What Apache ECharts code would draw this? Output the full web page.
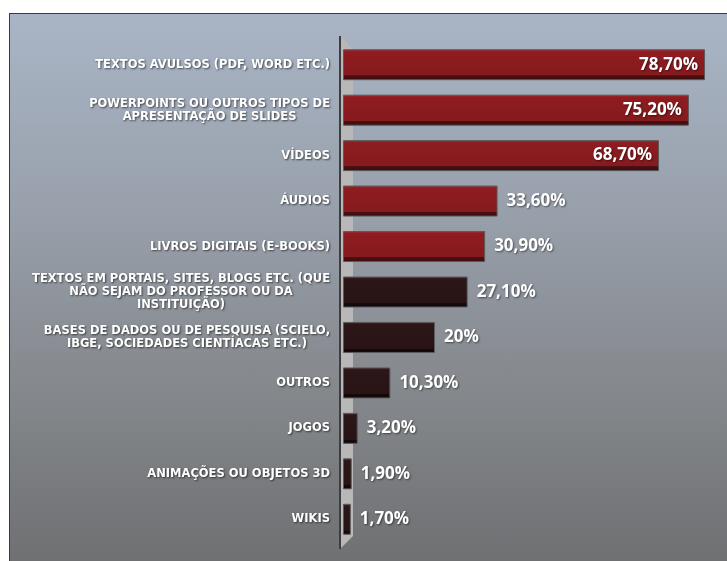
<!DOCTYPE html>
<html>
<head>
<meta charset="utf-8">
<script src="https://cdn.jsdelivr.net/npm/echarts@6/dist/echarts.min.js"></script>
<style>
  html, body { margin: 0; padding: 0; background: #ffffff; }
  #wrap { position: relative; width: 727px; height: 561px; overflow: hidden; }
  #panel { position: absolute; left: 9px; top: 13px; width: 730px; height: 560px;
    border: 1px solid #3a3a3a; box-sizing: border-box;
    background: linear-gradient(to bottom, #a9b5c6 0%, #98a0ab 35%, #83868a 70%, #6d6f71 100%); }
  #chart { position: absolute; left: 0; top: 0; width: 727px; height: 561px; }
</style>
</head>
<body>
<div id="wrap">
  <div id="panel"></div>
  <div id="chart"></div>
</div>
<script>
const categories = [
  "TEXTOS AVULSOS (PDF, WORD ETC.)",
  "POWERPOINTS OU OUTROS TIPOS DE\nAPRESENTAÇÃO DE SLIDES",
  "VÍDEOS",
  "ÁUDIOS",
  "LIVROS DIGITAIS (E-BOOKS)",
  "TEXTOS EM PORTAIS, SITES, BLOGS ETC. (QUE\nNÃO SEJAM DO PROFESSOR OU DA\nINSTITUIÇÃO)",
  "BASES DE DADOS OU DE PESQUISA (SCIELO,\nIBGE, SOCIEDADES CIENTÍACAS ETC.)",
  "OUTROS",
  "JOGOS",
  "ANIMAÇÕES OU OBJETOS 3D",
  "WIKIS"
];
const values = [78.7, 75.2, 68.7, 33.6, 30.9, 27.1, 20, 10.3, 3.2, 1.9, 1.7];
const valueLabels = ["78,70%", "75,20%", "68,70%", "33,60%", "30,90%", "27,10%", "20%", "10,30%", "3,20%", "1,90%", "1,70%"];
const redCount = 5;
const insideCount = 3;

const redFill = {
  type: 'linear', x: 0, y: 0, x2: 0, y2: 1,
  colorStops: [
    { offset: 0, color: '#a83034' },
    { offset: 0.08, color: '#8e1c20' },
    { offset: 0.84, color: '#861a1e' },
    { offset: 0.85, color: '#4a1012' },
    { offset: 1, color: '#3a0c0e' }
  ]
};
const darkFill = {
  type: 'linear', x: 0, y: 0, x2: 0, y2: 1,
  colorStops: [
    { offset: 0, color: '#4a3134' },
    { offset: 0.08, color: '#2c1618' },
    { offset: 0.86, color: '#281315' },
    { offset: 0.87, color: '#150a0b' },
    { offset: 1, color: '#100708' }
  ]
};

const data = values.map((v, i) => ({
  value: v,
  itemStyle: { color: i < redCount ? redFill : darkFill, borderColor: '#5a5a5a', borderWidth: 1 },
  label: {
    show: true,
    position: i < insideCount ? 'insideRight' : 'right',
    distance: i < insideCount ? 7 : 9,
    formatter: valueLabels[i],
    color: '#ffffff',
    fontFamily: 'Open Sans',
    fontWeight: 'bold',
    fontSize: 17,
    textShadowColor: 'rgba(0,0,0,0.5)',
    textShadowBlur: 2,
    textShadowOffsetX: 1,
    textShadowOffsetY: 1
  }
}));

const chart = echarts.init(document.getElementById('chart'));
chart.setOption({
  backgroundColor: 'transparent',
  animation: false,
  grid: { left: 343, right: 16, top: 42, bottom: 19, containLabel: false },
  xAxis: {
    type: 'value', min: 0, max: 80, show: false
  },
  yAxis: {
    type: 'category',
    inverse: true,
    data: categories,
    axisLine: { show: false },
    axisTick: { show: false },
    axisLabel: {
      margin: 13,
      formatter: function (val) {
        return val.split('\n').map(l => '{c|' + l + '}').join('\n');
      },
      rich: {
        c: {
          align: 'center',
          color: '#ffffff',
          fontFamily: 'DejaVu Sans',
          fontWeight: 'bold',
          fontSize: 11.5,
          lineHeight: 13,
          textShadowColor: 'rgba(0,0,0,0.6)',
          textShadowBlur: 2,
          textShadowOffsetX: 1,
          textShadowOffsetY: 1
        }
      }
    }
  },
  graphic: [
    { type: 'polygon', z: 0, shape: { points: [[341, 36], [353, 50], [353, 536], [341, 548]] },
      style: { fill: '#b8b8b8' } },
    { type: 'line', z: 0, shape: { x1: 340, y1: 36, x2: 340, y2: 549 },
      style: { stroke: '#3e3e3e', lineWidth: 2 } }
  ],
  series: [{
    type: 'bar',
    data: data,
    barWidth: 31,
    z: 5
  }]
});
</script>
</body>
</html>
